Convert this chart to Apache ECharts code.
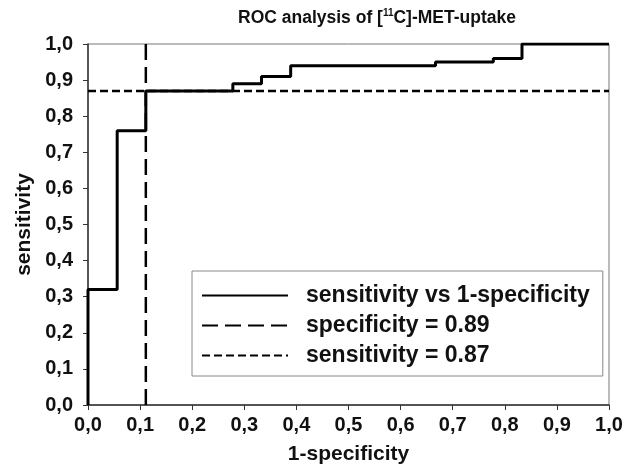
<!DOCTYPE html>
<html>
<head>
<meta charset="utf-8">
<script src="https://cdn.jsdelivr.net/npm/echarts@6/dist/echarts.min.js"></script>
<style>html,body{margin:0;padding:0;background:#fff}#c{width:636px;height:470px}</style>
</head>
<body>
<div id="c"></div>
<script>
// ROC curve points (1-specificity, sensitivity), step at each x
const fpr = [0, 0, 0.056, 0.111, 0.278, 0.333, 0.389, 0.667, 0.778, 0.833, 1.0];
const tpr = [0, 0.32, 0.76, 0.87, 0.89, 0.91, 0.94, 0.95, 0.96, 1.0, 1.0];
// Reference lines
const cutoffX = [0.111, 0.111];
const cutoffXY = [0, 1];
const sensLineX = [0, 1];
const sensLineY = [0.87, 0.87];
const seriesNames = ['sensitivity vs 1-specificity', 'specificity = 0.89', 'sensitivity = 0.87'];
const axisTicks = [0, 0.1, 0.2, 0.3, 0.4, 0.5, 0.6, 0.7, 0.8, 0.9, 1.0];

const FONT = '"Liberation Sans", Arial, Helvetica, sans-serif';
const fmt = v => v.toFixed(1).replace('.', ',');
const zip = (a, b) => a.map((v, i) => [v, b[i]]);

const chart = echarts.init(document.getElementById('c'), null, {renderer: 'canvas'});
chart.setOption({
  animation: false,
  backgroundColor: '#fff',
  textStyle: {fontFamily: FONT},
  title: {
    text: 'ROC analysis of [{sup|11}C]-MET-uptake',
    left: 238, top: 8, padding: 0,
    textStyle: {
      fontFamily: FONT, fontWeight: 'bold', fontSize: 17.5, color: '#111', lineHeight: 21,
      rich: {sup: {fontFamily: FONT, fontWeight: 'bold', fontSize: 10, lineHeight: 10, verticalAlign: 'top', color: '#111'}}
    }
  },
  grid: {left: 88, right: 27, top: 44, bottom: 62, show: true, borderColor: '#777', borderWidth: 1, backgroundColor: 'transparent'},
  xAxis: {
    type: 'value', min: axisTicks[0], max: axisTicks[axisTicks.length - 1], interval: 0.1,
    name: '1-specificity', nameLocation: 'middle', nameGap: 39,
    nameTextStyle: {fontFamily: FONT, fontWeight: 'bold', fontSize: 21, color: '#111'},
    axisLine: {lineStyle: {color: '#333', width: 1.5}},
    axisTick: {show: true, length: 5, lineStyle: {color: '#333', width: 1}},
    axisLabel: {formatter: fmt, margin: 10, fontFamily: FONT, fontWeight: 'bold', fontSize: 20, color: '#111'},
    splitLine: {show: false}
  },
  yAxis: {
    type: 'value', min: axisTicks[0], max: axisTicks[axisTicks.length - 1], interval: 0.1,
    name: 'sensitivity', nameLocation: 'middle', nameGap: 51, nameRotate: 90,
    nameTextStyle: {fontFamily: FONT, fontWeight: 'bold', fontSize: 21, color: '#111'},
    axisLine: {lineStyle: {color: '#333', width: 1.5}},
    axisTick: {show: true, length: 5, lineStyle: {color: '#333', width: 1}},
    axisLabel: {formatter: fmt, margin: 15, fontFamily: FONT, fontWeight: 'bold', fontSize: 20, color: '#111'},
    splitLine: {show: false}
  },
  legend: {
    orient: 'vertical', left: 192, top: 271,
    padding: [13, 13, 9, 9], itemGap: 7, itemWidth: 86, itemHeight: 14,
    backgroundColor: '#fff', borderColor: '#888', borderWidth: 1,
    itemStyle: {opacity: 0, borderWidth: 0},
    textStyle: {fontFamily: FONT, fontWeight: 'bold', fontSize: 23, lineHeight: 23, color: '#111', padding: [0, 0, 0, 13]},
    data: seriesNames
  },
  series: [
    {
      name: seriesNames[0], type: 'line', step: 'end', showSymbol: false, symbol: 'none',
      data: zip(fpr, tpr), z: 5,
      lineStyle: {color: '#000', width: 3, type: 'solid'}, itemStyle: {color: '#000'}
    },
    {
      name: seriesNames[1], type: 'line', showSymbol: false, symbol: 'none',
      data: zip(cutoffX, cutoffXY), z: 3,
      lineStyle: {color: '#000', width: 2.5, type: [16, 7]}, itemStyle: {color: '#000'}
    },
    {
      name: seriesNames[2], type: 'line', showSymbol: false, symbol: 'none',
      data: zip(sensLineX, sensLineY), z: 3,
      lineStyle: {color: '#000', width: 2.5, type: [8, 4]}, itemStyle: {color: '#000'}
    }
  ]
});
</script>
</body>
</html>
